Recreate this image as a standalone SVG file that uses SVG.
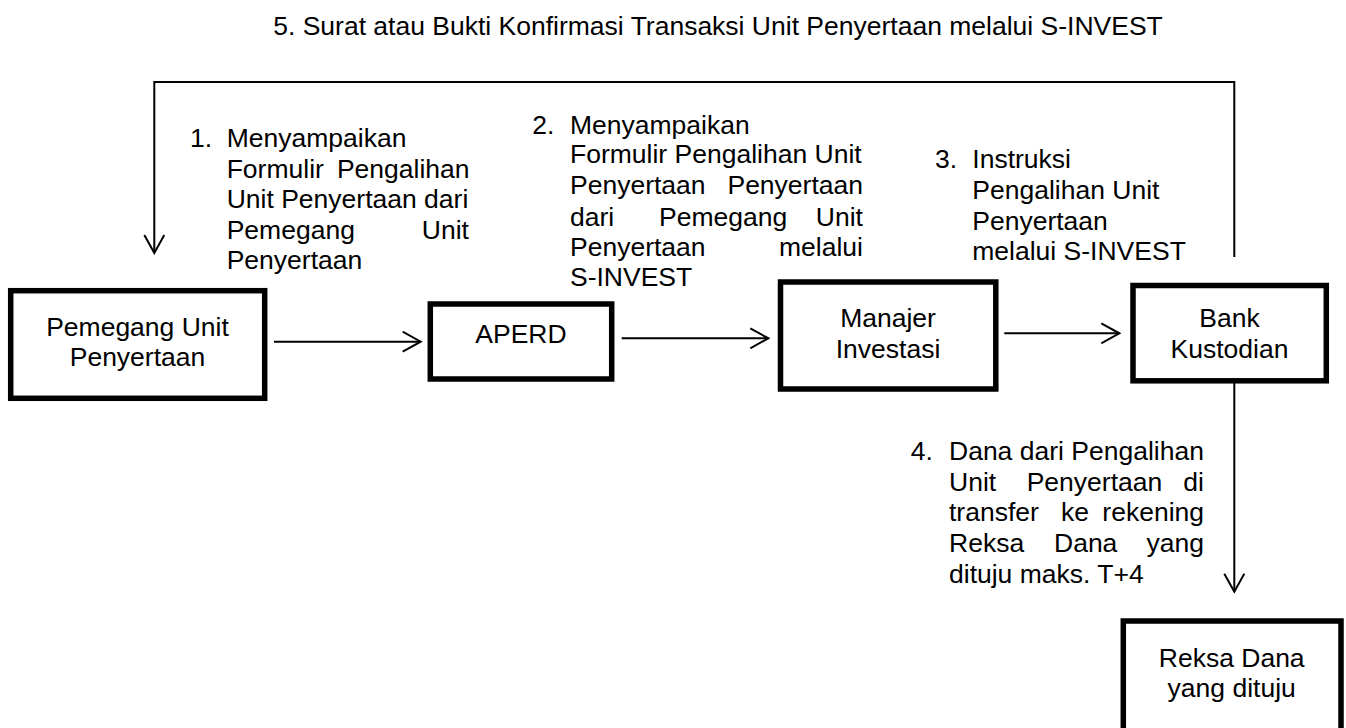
<svg xmlns="http://www.w3.org/2000/svg" width="1346" height="728" viewBox="0 0 1346 728">
<style>
text{font-family:"Liberation Sans",Arial,sans-serif;font-size:26.5px;fill:#000}
.c{text-anchor:middle}
.e{text-anchor:end}
.box{fill:#fff;stroke:#000;stroke-width:5.5}
.ln{fill:none;stroke:#000;stroke-width:2}
</style>
<defs>
<marker id="arr" viewBox="0 0 22 22" refX="20" refY="11" markerWidth="22" markerHeight="22" markerUnits="userSpaceOnUse" orient="auto">
<path d="M2,1 L20,11 L2,21" fill="none" stroke="#000" stroke-width="2"/>
</marker>
</defs>
<rect width="1346" height="728" fill="#fff"/>
<text id="title" class="c" x="718" y="35">5. Surat atau Bukti Konfirmasi Transaksi Unit Penyertaan melalui S-INVEST</text>
<g id="connectors">
<polyline class="ln" points="1234.3,257 1234.3,82 154.3,82 154.3,253" marker-end="url(#arr)"/>
<line class="ln" x1="274" y1="341.7" x2="420.7" y2="341.7" marker-end="url(#arr)"/>
<line class="ln" x1="621.7" y1="338.3" x2="768.3" y2="338.3" marker-end="url(#arr)"/>
<line class="ln" x1="1004.3" y1="333.3" x2="1119.3" y2="333.3" marker-end="url(#arr)"/>
<line class="ln" x1="1234.3" y1="381" x2="1234.3" y2="591.7" marker-end="url(#arr)"/>
</g>
<g id="label1">
<text x="190" y="147.3">1.</text>
<text x="226.7" y="147.3">Menyampaikan</text>
<text x="226.7" y="178.3">Formulir</text><text class="e" x="469.5" y="178.3">Pengalihan</text>
<text x="226.7" y="208.3">Unit Penyertaan dari</text>
<text x="226.7" y="239">Pemegang</text><text class="e" x="469" y="239">Unit</text>
<text x="226.7" y="269.3">Penyertaan</text>
</g>
<g id="label2">
<text x="532.3" y="134">2.</text>
<text x="570" y="134">Menyampaikan</text>
<text x="570" y="163.3">Formulir Pengalihan Unit</text>
<text x="570" y="194.3">Penyertaan</text><text class="e" x="863" y="194.3">Penyertaan</text>
<text x="570" y="225.7">dari</text><text x="659" y="225.7">Pemegang</text><text class="e" x="863" y="225.7">Unit</text>
<text x="570" y="255.7">Penyertaan</text><text class="e" x="863" y="255.7">melalui</text>
<text x="570" y="285.7">S-INVEST</text>
</g>
<g id="label3">
<text x="935" y="168.3">3.</text>
<text x="972.3" y="168.3">Instruksi</text>
<text x="972.3" y="199">Pengalihan Unit</text>
<text x="972.3" y="230">Penyertaan</text>
<text x="972.3" y="260">melalui S-INVEST</text>
</g>
<g id="label4">
<text x="910.7" y="460">4.</text>
<text x="949" y="460">Dana dari Pengalihan</text>
<text x="949" y="490.7">Unit</text><text x="1026.7" y="490.7">Penyertaan</text><text class="e" x="1204" y="490.7">di</text>
<text x="949" y="521">transfer</text><text x="1061" y="521">ke</text><text class="e" x="1204" y="521">rekening</text>
<text x="949" y="552.3">Reksa</text><text x="1054" y="552.3">Dana</text><text class="e" x="1204" y="552.3">yang</text>
<text x="949" y="582.7">dituju maks. T+4</text>
</g>
<g id="node-pemegang">
<rect class="box" x="10.7" y="290.7" width="254" height="107.6"/>
<text class="c" x="137.5" y="336">Pemegang Unit</text>
<text class="c" x="137.5" y="366">Penyertaan</text>
</g>
<g id="node-aperd">
<rect class="box" x="430.3" y="304" width="181.4" height="75"/>
<text class="c" x="521" y="343.3">APERD</text>
</g>
<g id="node-manajer">
<rect class="box" x="780.5" y="282" width="215.3" height="107"/>
<text class="c" x="888" y="326.7">Manajer</text>
<text class="c" x="888" y="358.3">Investasi</text>
</g>
<g id="node-bank">
<rect class="box" x="1133" y="285.5" width="193.3" height="95.3"/>
<text class="c" x="1229.5" y="327.3">Bank</text>
<text class="c" x="1229.5" y="358.3">Kustodian</text>
</g>
<g id="node-reksa">
<rect class="box" x="1123.3" y="621" width="217.7" height="130"/>
<text class="c" x="1231.7" y="667.3">Reksa Dana</text>
<text class="c" x="1231.7" y="696.7">yang dituju</text>
</g>
</svg>
